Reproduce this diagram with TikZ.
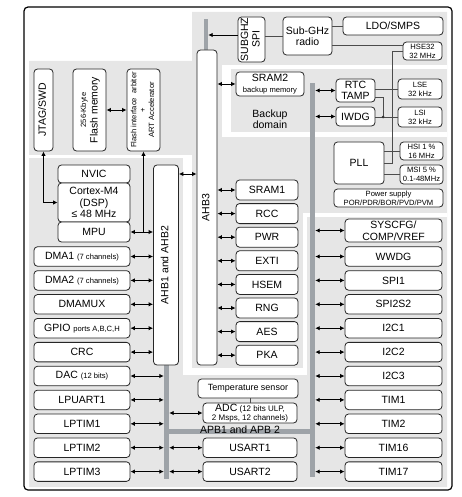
\documentclass[tikz,border=0pt]{standalone}
\usepackage{fontspec}
\setmainfont{Liberation Sans}
\usepackage{graphicx}
\usepackage{tikz}
\usetikzlibrary{arrows.meta}
\definecolor{bgGray}{RGB}{230,230,230}
\definecolor{busGray}{RGB}{158,163,168}
\newcommand{\mainfs}{\fontsize{10.5}{11.5}\selectfont}
\newcommand{\smallfs}{\fontsize{7.6}{8.8}\selectfont}
\newcommand{\smalltxt}[1]{{\smallfs #1}}
\newcommand{\vtext}[2][]{\rotatebox{90}{#1\begin{tabular}{@{}c@{}}#2\end{tabular}}}

\begin{document}
\begin{tikzpicture}[x=1pt, y=-1pt, font=\mainfs,
  unit/.style={draw=black!85, line width=0.8pt, fill=white, rounded corners=3.5, inner sep=0pt, align=center},
  bar/.style={fill=busGray, inner sep=0pt},
  dbl/.style={{Latex[length=4.5pt,width=4.5pt]}-{Latex[length=4.5pt,width=4.5pt]}, line width=0.9pt},
  arr/.style={-{Latex[length=4.5pt,width=4.5pt]}, line width=0.9pt},
  wire/.style={draw=black!70, line width=0.7pt},
  lrow/.style={unit, minimum width=96, minimum height=19.5},
  rrow/.style={unit, minimum width=97, minimum height=19.5},
  prow/.style={unit, minimum width=62, minimum height=20}]
\useasboundingbox (0,0) rectangle (461,497);
%%%%% Background %%%%%
\fill[bgGray] (29,61) -- (192,61) -- (192,12) -- (447,12) -- (447,487) -- (29,487) -- cycle;
\fill[white] (29,155) rectangle (192,158);
\fill[white] (183,155) rectangle (192,375);
\fill[white] (183,368) rectangle (307,375);
\fill[white] (303,213) rectangle (307,375);
\fill[white] (303,213) rectangle (447,217);
\fill[white] (222,65) rectangle (447,69);
\fill[white] (222,65) rectangle (231,137);
\fill[white] (222,132) rectangle (447,137);
\draw[line width=1.2pt, rounded corners=4] (24,7) rectangle (452,490);
%%%%% Buses %%%%%
\node[bar, minimum width=4, minimum height=31] (busT) at (206,34.5) {};
\node[bar, minimum width=5, minimum height=394] (busR) at (312.5,280) {};
\node[bar, minimum width=5, minimum height=114] (busL) at (166.5,422) {};
\node[bar, minimum width=151, minimum height=5] (busH) at (239.5,431.5) {};
\node (apblbl) at (240,430) {APB1 and APB 2};
%%%%% Flash and core %%%%%
\node[unit, minimum width=19, minimum height=82] (jtag) at (43.5,110) {\vtext{JTAG/SWD}};
\node[unit, minimum width=33, minimum height=82] (flash) at (89.5,110) {\vtext{\smalltxt{256-Kbyte}\\Flash memory}};
\node[unit, minimum width=33, minimum height=82] (flashif) at (143.5,110) {\vtext[\smallfs]{Flash interface\ \ arbiter\\+\\ART Accelerator}};
\node[unit, minimum width=72, minimum height=18] (nvic) at (94,174) {NVIC};
\node[unit, minimum width=72, minimum height=39] (cortex) at (94,202.5) {Cortex-M4\\(DSP)\\≤ 48 MHz};
\node[unit, minimum width=72, minimum height=20] (mpu) at (94,232) {MPU};
\node[unit, minimum width=25, minimum height=200] (ahb12) at (166,265) {\vtext{AHB1 and AHB2}};
\node[unit, minimum width=20, minimum height=315] (ahb3) at (207,207.5) {\vtext{AHB3}};
%%%%% Radio and backup domain %%%%%
\node[unit, minimum width=27, minimum height=45] (spi) at (251.5,39.5) {\vtext{SUBGHZ\\SPI}};
\node[unit, minimum width=49, minimum height=38] (radio) at (307.5,36) {Sub-GHz\\radio};
\node[unit, minimum width=100, minimum height=18] (ldo) at (393,26) {LDO/SMPS};
\node[unit, minimum width=39, minimum height=18, font=\smallfs] (hse) at (422.5,51) {HSE32\\32 MHz};
\node[unit, minimum width=68, minimum height=24] (sram2) at (270,84) {SRAM2\\\smalltxt{backup memory}};
\node[align=center] (bkp) at (270,119) {Backup\\domain};
\node[unit, minimum width=39, minimum height=23] (rtc) at (355.5,90.5) {RTC\\TAMP};
\node[unit, minimum width=39, minimum height=19] (iwdg) at (355.5,116.5) {IWDG};
\node[unit, minimum width=44, minimum height=20, font=\smallfs] (lse) at (420,89) {LSE\\32 kHz};
\node[unit, minimum width=44, minimum height=20, font=\smallfs] (lsi) at (420,117) {LSI\\32 kHz};
\coordinate (lsidot) at (383,117);
\node[unit, minimum width=50, minimum height=42] (pll) at (359,163) {PLL};
\node[unit, minimum width=43, minimum height=18, font=\smallfs] (hsi) at (421.5,151) {HSI 1 \%\\16 MHz};
\node[unit, minimum width=43, minimum height=19, font=\smallfs] (msi) at (421.5,174.5) {MSI 5 \%\\0.1-48MHz};
\node[unit, minimum width=109, minimum height=18, font=\smallfs] (psu) at (388.5,198) {Power supply\\POR/PDR/BOR/PVD/PVM};
%%%%% AHB3 peripherals %%%%%
\foreach \n/\t [count=\i from 0] in {sram1/SRAM1, rcc/RCC, pwr/PWR, exti/EXTI, hsem/HSEM, rng/RNG, aes/AES, pka/PKA}{
  \node[prow] (\n) at (267,{190+23.6*\i}) {\t};
  \draw[dbl] (ahb3.east |- \n.west) -- (\n.west);
}
%%%%% Left column %%%%%
\foreach \n/\t [count=\i from 0] in {dma1/{DMA1 \smalltxt{(7 channels)}}, dma2/{DMA2 \smalltxt{(7 channels)}}, dmamux/DMAMUX, gpio/{GPIO \smalltxt{ports A,B,C,H}}, crc/CRC, dac/{DAC \smalltxt{(12 bits)}}, lpuart1/LPUART1, lptim1/LPTIM1, lptim2/LPTIM2, lptim3/LPTIM3}{
  \node[lrow] (\n) at (82,{256.5+23.9*\i}) {\t};
}
\foreach \n in {dma1, dma2, dmamux, gpio, crc}{
  \draw[dbl] (\n.east) -- (\n.east -| ahb12.west);
}
\foreach \n in {dac, lpuart1, lptim1, lptim2, lptim3}{
  \draw[dbl] (\n.east) -- (\n.east -| busL.west);
}
%%%%% Right column %%%%%
\node[unit, minimum width=97, minimum height=23] (syscfg) at (393.5,230.5) {SYSCFG/\\COMP/VREF};
\foreach \n/\t [count=\i from 0] in {wwdg/WWDG, spi1/SPI1, spi2s2/SPI2S2, i2c1/I2C1, i2c2/I2C2, i2c3/I2C3, tim1/TIM1, tim2/TIM2, tim16/TIM16, tim17/TIM17}{
  \node[rrow] (\n) at (393.5,{256.5+23.9*\i}) {\t};
}
\foreach \n in {syscfg, wwdg, spi1, spi2s2, i2c1, i2c2, i2c3, tim1, tim2, tim16, tim17}{
  \draw[dbl] (busR.east |- \n.west) -- (\n.west);
}
%%%%% APB middle %%%%%
\node[unit, minimum width=100, minimum height=19, font=\fontsize{9}{10}\selectfont] (temp) at (248,388.5) {Temperature sensor};
\node[unit, minimum width=94, minimum height=20, font=\fontsize{8}{8.6}\selectfont] (adc) at (250,413) {{\mainfs ADC} (12 bits ULP,\\2 Msps, 12 channels)};
\node[unit, minimum width=94, minimum height=19.5] (usart1) at (250,447.7) {USART1};
\node[unit, minimum width=94, minimum height=19.5] (usart2) at (250,471.6) {USART2};
\draw[wire] (adc.north) -- (adc.north |- temp.south);
\foreach \n in {adc, usart1, usart2}{
  \draw[dbl] (busL.east |- \n.west) -- (\n.west);
}
%%%%% Connections %%%%%
\draw[dbl] (jtag.south) |- (cortex.west);
\draw[dbl] (flash.east) -- (flashif.west);
\draw[dbl] (mpu.east) -- (mpu.east -| ahb12.west);
\draw[arr] (flashif.south |- mpu.east) -- (flashif.south);
\draw[dbl] (ahb12.east |- nvic.east) -- (ahb3.west |- nvic.east);
\draw[dbl] (ahb3.east |- sram2.west) -- (sram2.west);
\draw[arr] ([yshift=4.5pt]spi.west) -- ([yshift=4.5pt]spi.west -| busT.east);
\draw[wire] (spi.east |- radio.west) -- (radio.west);
\draw[wire] (radio.east |- ldo.west) -- (ldo.west);
\draw[wire] ([yshift=-9pt]radio.east) -- ([yshift=-9pt]radio.east -| hse.west);
\draw[wire] (hse.west) -- ++(-10,0) |- (pll.east);
\draw[wire] (hsi.west) -- (hsi.west -| pll.east);
\draw[wire] (msi.west) -- (msi.west -| pll.east);
\draw[dbl] (busR.east |- rtc.west) -- (rtc.west);
\draw[dbl] (busR.east |- iwdg.west) -- (iwdg.west);
\draw[wire] (lse.west) -- (lse.west -| rtc.east);
\draw[wire] (iwdg.east |- lsi.west) -- (lsi.west);
\draw[wire] ([yshift=-7pt]rtc.east) -| (lsidot);
\fill[black!80] (lsidot) circle (1.5);
\end{tikzpicture}
\end{document}
